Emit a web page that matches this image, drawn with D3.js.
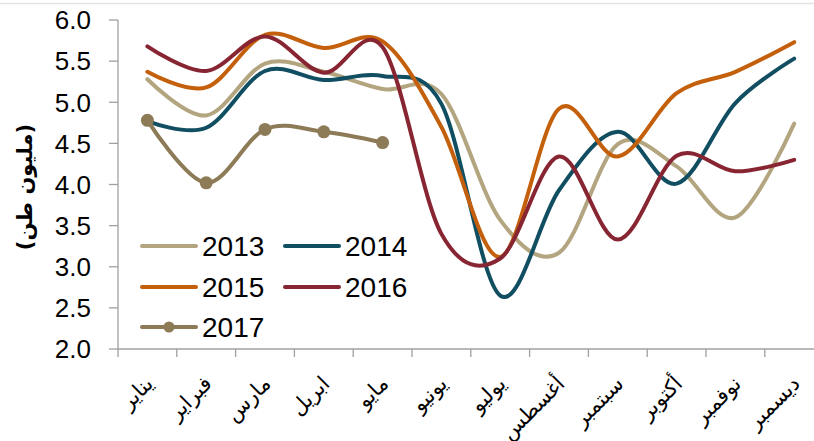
<!DOCTYPE html>
<html>
<head>
<meta charset="utf-8">
<script src="https://cdn.jsdelivr.net/npm/d3@7"></script>
<style>
  body { margin: 0; background: #fff; }
  svg { display: block; font-family: "Liberation Sans", Arial, sans-serif; }
</style>
</head>
<body>
<script>
// months (Arabic), Jan..Dec
var months = ["يناير", "فبراير", "مارس", "ابريل", "مايو", "يونيو", "يوليو", "أغسطس", "سبتمبر", "أكتوبر", "نوفمبر", "ديسمبر"];
var yTicks = [2.0, 2.5, 3.0, 3.5, 4.0, 4.5, 5.0, 5.5, 6.0];

var v2013 = [5.28, 4.84, 5.47, 5.37, 5.16, 5.10, 3.57, 3.17, 4.49, 4.22, 3.60, 4.74];
var v2014 = [4.77, 4.69, 5.38, 5.27, 5.32, 4.98, 2.65, 3.93, 4.64, 4.01, 4.99, 5.53];
var v2015 = [5.37, 5.18, 5.82, 5.66, 5.74, 4.70, 3.12, 4.92, 4.34, 5.11, 5.37, 5.73];
var v2016 = [5.68, 5.38, 5.80, 5.36, 5.67, 3.40, 3.10, 4.34, 3.33, 4.35, 4.16, 4.30];
var v2017 = [4.78, 4.02, 4.67, 4.64, 4.51];

var series = [
  {name: "2013", values: v2013, color: "#b3a57f", dots: false},
  {name: "2014", values: v2014, color: "#114e62", dots: false},
  {name: "2015", values: v2015, color: "#c45f0c", dots: false},
  {name: "2016", values: v2016, color: "#882532", dots: false},
  {name: "2017", values: v2017, color: "#8d7a56", dots: true}
];

var w = 814, h = 441;
var left = 118, topY = 20, bottom = 349;
var band = 58.8;

var svg = d3.select("body").append("svg").attr("width", w).attr("height", h);

// thin border line across the top of the picture
svg.append("line").attr("x1", 0).attr("x2", w).attr("y1", 3.5).attr("y2", 3.5)
  .attr("stroke", "#e3e3e3").attr("stroke-width", 1.5);

var x = d3.scaleBand().domain(months).range([left, left + band * 12]);
var y = d3.scaleLinear().domain([2, 6]).range([bottom, topY]);

var axisColor = "#a0a0a0";

// y axis
svg.append("line").attr("x1", left).attr("x2", left).attr("y1", topY).attr("y2", bottom)
  .attr("stroke", axisColor).attr("stroke-width", 1.3);
svg.selectAll(".ytick").data(yTicks).enter().append("line")
  .attr("x1", left - 9).attr("x2", left)
  .attr("y1", function(d){ return y(d); }).attr("y2", function(d){ return y(d); })
  .attr("stroke", axisColor).attr("stroke-width", 1.3);
svg.selectAll(".ylab").data(yTicks).enter().append("text")
  .attr("x", 91).attr("y", function(d){ return y(d); })
  .attr("dy", "0.36em")
  .attr("text-anchor", "end")
  .attr("font-size", 26)
  .attr("fill", "#000")
  .text(function(d){ return d.toFixed(1); });

// y title
svg.append("text")
  .attr("transform", "translate(32,187) rotate(-90)")
  .attr("text-anchor", "middle")
  .attr("font-size", 21)
  .attr("font-weight", "bold")
  .attr("font-family", "'DejaVu Sans', sans-serif")
  .text("(مليون طن)");

// x axis
svg.append("line").attr("x1", left).attr("x2", w).attr("y1", bottom).attr("y2", bottom)
  .attr("stroke", axisColor).attr("stroke-width", 1.3);
var bounds = d3.range(13).map(function(i){ return left + i * band; });
svg.selectAll(".xtick").data(bounds).enter().append("line")
  .attr("x1", function(d){ return d; }).attr("x2", function(d){ return d; })
  .attr("y1", bottom).attr("y2", bottom + 8)
  .attr("stroke", axisColor).attr("stroke-width", 1.3);
svg.selectAll(".xlab").data(months).enter().append("text")
  .attr("transform", function(d){
    return "translate(" + (x(d) + x.bandwidth() / 2 + 7) + "," + (bottom + 36) + ") rotate(-45)";
  })
  .attr("text-anchor", "end")
  .attr("font-size", 21)
  .attr("font-family", "'DejaVu Sans', sans-serif")
  .text(function(d){ return d; });

// lines
var line = d3.line()
  .x(function(d, i){ return x(months[i]) + x.bandwidth() / 2; })
  .y(function(d){ return y(d); })
  .curve(d3.curveCatmullRom.alpha(0));

series.forEach(function(s){
  svg.append("path").datum(s.values)
    .attr("d", line)
    .attr("fill", "none")
    .attr("stroke", s.color)
    .attr("stroke-width", 4)
    .attr("stroke-linecap", "round");
  if (s.dots) {
    svg.selectAll(".dot" + s.name).data(s.values).enter().append("circle")
      .attr("cx", function(d, i){ return x(months[i]) + x.bandwidth() / 2; })
      .attr("cy", function(d){ return y(d); })
      .attr("r", 6.5)
      .attr("fill", s.color);
  }
});

// legend
var legendPos = [[142, 246], [285, 246], [142, 287], [285, 287], [142, 327]];
series.forEach(function(s, i){
  var p = legendPos[i];
  var g = svg.append("g").attr("transform", "translate(" + p[0] + "," + p[1] + ")");
  g.append("line").attr("x1", 0).attr("x2", 54).attr("y1", 0).attr("y2", 0)
    .attr("stroke", s.color).attr("stroke-width", 4).attr("stroke-linecap", "round");
  if (s.dots) g.append("circle").attr("cx", 27).attr("cy", 0).attr("r", 5.5).attr("fill", s.color);
  g.append("text").attr("x", 60).attr("y", 0).attr("dy", "0.36em")
    .attr("font-size", 28).attr("fill", "#000").text(s.name);
});
</script>
</body>
</html>
